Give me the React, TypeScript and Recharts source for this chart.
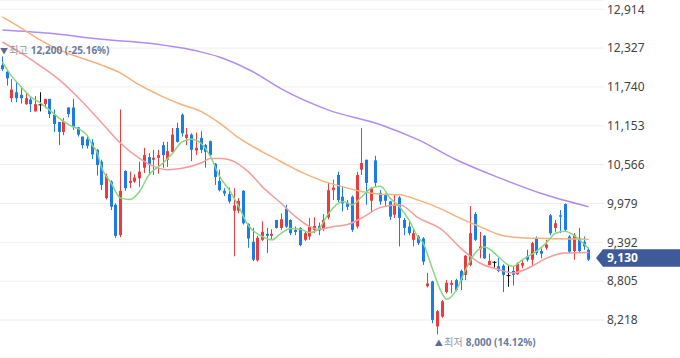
import React from 'react';
import {
  ComposedChart,
  Bar,
  Line,
  XAxis,
  YAxis,
  CartesianGrid,
  ReferenceDot,
  ReferenceLine,
} from 'recharts';

const FONT = "'Noto Sans', 'Noto Sans CJK KR', sans-serif";

// OHLC per session (oldest -> newest)
const OPEN = [
  12070, 11970, 11570, 11660, 11620, 11480, 11550, 11370, 11470, 11480,
  11560, 11320, 11210, 11060, 11430, 11430, 11130, 10990, 10950, 10900,
  10790, 10610, 10060, 10310, 9960, 9500, 10470, 10290, 10310, 10360,
  10520, 10680, 10640, 10670, 10860, 10640, 10760, 11120, 11320, 10970,
  11020, 10780, 10970, 10860, 10920, 10580, 10320, 10170, 10120, 9870,
  9870, 10170, 9670, 9400, 9120, 9430, 9520, 9490, 9730, 9610,
  9900, 9730, 9580, 9610, 9430, 9480, 9580, 9640, 9590, 9770,
  10180, 10410, 10080, 9990, 10080, 9630, 10490, 10640, 10020, 10630,
  10140, 10110, 10010, 9810, 10070, 9730, 9630, 9430, 9480, 9450,
  8730, 8800, 8120, 8270, 8640, 8750, 8820, 8960, 8900, 9050,
  9820, 9290, 9490, 9050, 9090, 9030, 9040, 8890, 8960, 8910,
  9040, 9180, 9130, 9460, 9260, 9310, 9800, 9610, 9800, 9970,
  9480, 9260, 9460, 9400, 9280,
];
const HIGH = [
  12200, 11990, 11860, 11810, 11750, 11650, 11600, 11600, 11660, 11560,
  11560, 11400, 11210, 11270, 11430, 11560, 11130, 10990, 10990, 10950,
  10800, 10640, 10430, 10330, 9980, 11400, 10480, 10460, 10420, 10610,
  10820, 10740, 10790, 10790, 10910, 10910, 11120, 11200, 11340, 11120,
  11040, 11050, 11070, 10880, 10930, 10590, 10490, 10210, 10220, 10210,
  10060, 10180, 9680, 9610, 9490, 9710, 9610, 9590, 9730, 9830,
  9960, 9740, 9630, 9620, 9550, 9760, 9770, 9690, 9820, 10290,
  10340, 10460, 10230, 10030, 10100, 10460, 11120, 10640, 10230, 10700,
  10180, 10130, 10020, 10120, 10090, 9760, 9710, 9590, 9500, 9470,
  8930, 8810, 8370, 8520, 8820, 8820, 8840, 8980, 9200, 9940,
  9850, 9550, 9500, 9220, 9110, 9160, 9060, 9040, 9030, 9090,
  9130, 9280, 9400, 9480, 9300, 9430, 9820, 9730, 9880, 9980,
  9500, 9530, 9610, 9480, 9310,
];
const LOW = [
  11980, 11760, 11510, 11510, 11490, 11470, 11360, 11370, 11370, 11420,
  11270, 11060, 10860, 11010, 11280, 11090, 10990, 10810, 10810, 10650,
  10400, 10180, 10040, 9880, 9460, 9470, 10170, 10210, 10290, 10230,
  10440, 10410, 10410, 10430, 10520, 10530, 10750, 10900, 10990, 10860,
  10620, 10710, 10740, 10520, 10690, 10260, 10160, 10090, 9980, 9180,
  9830, 9660, 9310, 9110, 9100, 9410, 9230, 9430, 9600, 9580,
  9610, 9500, 9500, 9330, 9410, 9430, 9530, 9500, 9560, 9740,
  10030, 10000, 9860, 9880, 9550, 9600, 10410, 9960, 9840, 10240,
  9960, 9930, 9730, 9760, 9330, 9500, 9500, 9330, 9350, 9050,
  8710, 8170, 8000, 8250, 8620, 8620, 8650, 8670, 8820, 9030,
  9410, 9150, 9140, 9040, 9010, 8940, 8640, 8720, 8740, 8900,
  9000, 9100, 9050, 9200, 9150, 9280, 9500, 9550, 9530, 9560,
  9230, 9130, 9240, 9280, 9110,
];
const CLOSE = [
  12010, 11870, 11700, 11570, 11570, 11570, 11480, 11480, 11470, 11560,
  11330, 11180, 11060, 11220, 11330, 11130, 11020, 10860, 10850, 10720,
  10560, 10260, 10390, 9930, 9490, 10170, 10210, 10320, 10370, 10460,
  10710, 10560, 10670, 10710, 10710, 10770, 11020, 10910, 11040, 11020,
  10790, 10820, 10790, 10760, 10710, 10380, 10180, 10130, 10010, 9950,
  10020, 9680, 9450, 9130, 9460, 9550, 9490, 9520, 9610, 9740,
  9630, 9530, 9550, 9350, 9530, 9630, 9640, 9570, 9730, 10180,
  10220, 10030, 9980, 9930, 9580, 10410, 10590, 10290, 10210, 10290,
  10010, 10020, 9780, 9960, 9760, 9610, 9530, 9530, 9380, 9100,
  8770, 8220, 8350, 8500, 8780, 8780, 8670, 8820, 9190, 9530,
  9430, 9330, 9150, 9110, 9090, 8960, 8900, 8890, 8900, 9070,
  9080, 9130, 9380, 9230, 9220, 9360, 9530, 9680, 9780, 9580,
  9250, 9500, 9260, 9330, 9130,
];

// moving averages: [session index, value]
const MA5 = [
  [0, 12120], [2, 11900], [4, 11740], [6, 11590], [8, 11500], [10, 11390],
  [12, 11270], [14, 11170], [17, 11070], [18, 11000], [19, 10860], [20, 10760],
  [21, 10520], [23, 10290], [25, 10060], [27, 10040], [29, 10160], [31, 10410],
  [34, 10590], [36, 10740], [38, 10910], [40, 10950], [42, 10890], [44, 10690],
  [46, 10380], [48, 10180], [50, 9930], [52, 9650], [55, 9480], [57, 9430],
  [59, 9530], [61, 9600], [63, 9590], [65, 9540], [67, 9600], [69, 9830],
  [72, 10010], [74, 9960], [76, 10080], [78, 10210], [80, 10240], [82, 10060],
  [84, 9930], [86, 9730], [88, 9460], [89, 9380], [91, 8980], [93, 8620],
  [94, 8530], [96, 8670], [98, 8980], [100, 9230], [102, 9320], [105, 9170],
  [107, 9050], [108, 9030], [110, 9130], [113, 9260], [115, 9380], [117, 9530],
  [119, 9560], [121, 9490], [124, 9300],
];
const MA20 = [
  [0, 12420], [4, 12250], [8, 12060], [12, 11850], [17, 11510], [21, 11200],
  [25, 10890], [29, 10660], [32, 10540], [35, 10490], [38, 10510], [42, 10590],
  [44, 10660], [46, 10660], [48, 10640], [52, 10460], [55, 10230], [59, 9980],
  [62, 9780], [65, 9630], [67, 9590], [70, 9630], [73, 9660], [76, 9760],
  [80, 9920], [84, 9960], [88, 9760], [93, 9580], [97, 9300], [101, 9080],
  [105, 8980], [108, 8930], [112, 9030], [115, 9150], [119, 9230], [124, 9240],
];
const MA60 = [
  [0, 12800], [4, 12630], [8, 12450], [12, 12300], [17, 12170], [21, 12070],
  [25, 11950], [29, 11770], [34, 11590], [38, 11470], [42, 11370], [46, 11190],
  [50, 10970], [55, 10760], [59, 10610], [63, 10460], [67, 10340], [72, 10230],
  [76, 10160], [80, 10120], [84, 10110], [88, 10030], [93, 9890], [97, 9750],
  [101, 9630], [105, 9510], [108, 9470], [115, 9450], [124, 9440],
];
const MA120 = [
  [0, 12600], [10, 12550], [21, 12460], [31, 12400], [42, 12270], [46, 12190],
  [53, 11970], [59, 11710], [69, 11390], [80, 11170], [88, 10940], [96, 10640],
  [105, 10370], [114, 10130], [124, 9930],
];

const Y_TICKS = [8218, 8805, 9392, 9979, 10566, 11153, 11740, 12327, 12914];
const Y_DOMAIN = [7644, 13054];
const MAX_TEXT = ['최고', '12,200 (-25.16%)'];
const MIN_TEXT = ['최저', '8,000 (14.12%)'];
const CURRENT_TEXT = '9,130';

const UP = '#ee3a3c';
const DOWN = '#1b7ce9';
const FLAT = '#111111';

const rows: any[] = OPEN.map((o, i) => ({
  cat: String(i),
  open: o,
  high: HIGH[i],
  low: LOW[i],
  close: CLOSE[i],
  range: [LOW[i], HIGH[i]],
  ma5: null,
  ma20: null,
  ma60: null,
  ma120: null,
}));
MA5.forEach(([i, v]) => (rows[i].ma5 = v));
MA20.forEach(([i, v]) => (rows[i].ma20 = v));
MA60.forEach(([i, v]) => (rows[i].ma60 = v));
MA120.forEach(([i, v]) => (rows[i].ma120 = v));

const maxIdx = HIGH.indexOf(Math.max(...HIGH));
const minIdx = LOW.indexOf(Math.min(...LOW));
const lastClose = CLOSE[CLOSE.length - 1];

const Candle = (props: any) => {
  const { x, y, width, height, payload } = props;
  if (x == null || y == null || !payload) return null;
  const { open, close, high, low } = payload;
  const top = Math.min(y, y + height);
  const h = Math.abs(height);
  const k = high === low ? 0 : h / (high - low);
  const yv = (v: number) => top + (high - v) * k;
  const cx = Math.floor(x + width / 2);
  const color = close > open ? UP : close < open ? DOWN : FLAT;
  const bTop = yv(Math.max(open, close));
  const bBot = yv(Math.min(open, close));
  const bh = Math.max(1, bBot - bTop);
  return (
    <g>
      <line x1={cx + 0.5} x2={cx + 0.5} y1={top} y2={top + h} stroke={color} strokeWidth={1} />
      {close === open ? (
        <line x1={cx - 1.5} x2={cx + 2.5} y1={bTop} y2={bTop} stroke={color} strokeWidth={1} />
      ) : (
        <rect x={cx - 1} y={bTop} width={3} height={bh} fill={color} />
      )}
    </g>
  );
};

const NoDot = (p: any) => <g key={`nd-${p.index}`} />;

const PointLabel = ({ viewBox, arrow, words, dy }: any) => {
  const vb = viewBox || {};
  const cx = vb.x + (vb.width || 0) / 2;
  const cy = vb.y + (vb.height || 0) / 2;
  return (
    <text x={cx - 2.5} y={cy + dy} fontSize={10} fontFamily={FONT}>
      <tspan fill="#5d6c8e" fontSize={8}>{arrow}</tspan>
      <tspan fill="#8d97ae" dx={1.5}>{words[0]}</tspan>
      <tspan fill="#6b7ba3" fontWeight="bold" dx={3}>{words[1]}</tspan>
    </text>
  );
};

const PriceTag = (props: any) => {
  const vb = props.viewBox || {};
  const xr = vb.x + vb.width;
  const y = vb.y;
  const t = y - 10.4;
  const b = y + 7;
  const mid = (t + b) / 2;
  const d = `M${xr - 8},${mid} L${xr - 1},${t} L${xr + 80},${t} L${xr + 80},${b} L${xr - 1},${b} Z`;
  return (
    <g>
      <path d={d} fill="#3e5a98" />
      <text x={xr + 3} y={mid} dy="0.36em" fill="#ffffff" fontSize={12} fontWeight="bold" fontFamily={FONT}>
        {CURRENT_TEXT}
      </text>
    </g>
  );
};

export default function App() {
  return (
    <div style={{ position: 'absolute', left: 0, top: 0, width: 680, height: 358, background: '#fff' }}>
      <ComposedChart
        width={680}
        height={358}
        data={rows}
        margin={{ top: 0, right: 0, bottom: 0, left: 0 }}
      >
        <CartesianGrid vertical={false} stroke="#eeeeee" />
        <XAxis dataKey="cat" hide padding={{ left: 0, right: 13 }} />
        <YAxis
          orientation="right"
          width={76}
          domain={Y_DOMAIN}
          ticks={Y_TICKS}
          allowDataOverflow
          axisLine={false}
          tickLine={false}
          tickSize={3}
          tickMargin={0}
          tick={{ fill: '#444444', fontSize: 12, fontFamily: FONT }}
          tickFormatter={(v: number) => v.toLocaleString('en-US')}
        />
        <Bar dataKey="range" shape={<Candle />} isAnimationActive={false} />
        <Line dataKey="ma120" stroke="#b08cf2" strokeWidth={1.5} dot={NoDot} activeDot={false} connectNulls type="monotone" isAnimationActive={false} />
        <Line dataKey="ma60" stroke="#f8b07a" strokeWidth={1.5} dot={NoDot} activeDot={false} connectNulls type="monotone" isAnimationActive={false} />
        <Line dataKey="ma20" stroke="#f59c9c" strokeWidth={1.5} dot={NoDot} activeDot={false} connectNulls type="monotone" isAnimationActive={false} />
        <Line dataKey="ma5" stroke="#86d980" strokeWidth={1.5} dot={NoDot} activeDot={false} connectNulls type="monotone" isAnimationActive={false} />
        <ReferenceLine y={lastClose} stroke="transparent" strokeWidth={0} ifOverflow="visible" label={<PriceTag />} />
        <ReferenceDot
          x={String(maxIdx)}
          y={HIGH[maxIdx]}
          r={1}
          fill="none"
          stroke="none"
          ifOverflow="visible"
          label={(p: any) => <PointLabel viewBox={p.viewBox} arrow="▼" words={MAX_TEXT} dy={-2.5} />}
        />
        <ReferenceDot
          x={String(minIdx)}
          y={LOW[minIdx]}
          r={1}
          fill="none"
          stroke="none"
          ifOverflow="visible"
          label={(p: any) => <PointLabel viewBox={p.viewBox} arrow="▲" words={MIN_TEXT} dy={12} />}
        />
      </ComposedChart>
    </div>
  );
}
